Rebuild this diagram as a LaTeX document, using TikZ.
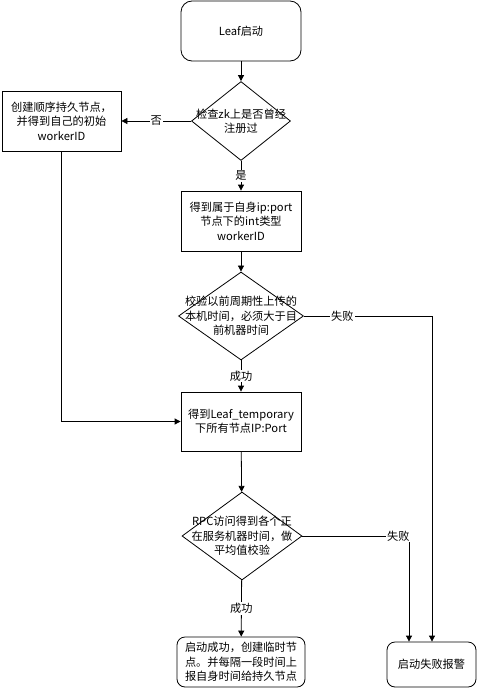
\documentclass[tikz,border=0pt]{standalone}
\usepackage{fontspec}
\setmainfont{Noto Sans CJK SC}
\usetikzlibrary{shapes.geometric,arrows.meta}

\begin{document}
\begin{tikzpicture}[x=1pt,y=-1pt,
    font=\fontsize{11.2}{14.5}\selectfont,
    line width=0.8pt,
    >={Triangle[length=6pt,width=6pt]},
    box/.style={draw,minimum width=120pt,minimum height=60pt,align=center,inner sep=2pt},
    rbox/.style={box,rounded corners=8pt},
    dia/.style={draw,diamond,inner sep=0pt},
    lbl/.style={fill=white,inner sep=1pt}]
\useasboundingbox (0,0) rectangle (478,688);
\node[rbox,rounded corners=11pt] (start) at (241,31) {Leaf启动};
\node[dia,minimum width=99pt,minimum height=79pt,
    label={[align=center]center:{检查zk上是否曾经\\注册过}}] (chk) at (241,121) {};
\node[box,minimum width=119pt] (newid) at (61.5,121) {创建顺序持久节点，\\并得到自己的初始\\workerID};
\node[box] (ownid) at (241,221) {得到属于自身ip:port\\节点下的int类型\\workerID};
\node[dia,minimum width=125pt,minimum height=88pt,
    label={[align=center]center:{校验以前周期性上传的\\本机时间，必须大于目\\前机器时间}}] (clk) at (241,316) {};
\node[box,minimum height=59pt] (tmp) at (241,421.5) {得到Leaf\_temporary\\下所有节点IP:Port};
\node[dia,minimum width=120pt,minimum height=88pt,
    label={[align=center]center:{RPC访问得到各个正\\在服务机器时间，做\\平均值校验}}] (rpc) at (242,536) {};
\node[rbox,minimum width=128pt,minimum height=50pt] (done) at (241,662) {启动成功，创建临时节\\点。并每隔一段时间上\\报自身时间给持久节点};
\node[rbox,minimum width=89pt,minimum height=45pt] (alarm) at (431.5,664.5) {启动失败报警};
\coordinate (f1) at (432,316);
\coordinate (f2) at (409,536);

\draw[->] (start) -- (chk);
\draw[->] (chk) -- node[lbl]{否} (newid);
\draw[->] (chk) -- node[lbl]{是} (ownid);
\draw[->] (ownid) -- (clk);
\draw[->] (clk) -- node[lbl]{成功} (tmp);
\draw[->] (newid) |- (tmp);
\draw[->] (tmp) -- (rpc);
\draw[->] (rpc) -- node[lbl]{成功} (done);
\draw[->] (clk.east) -- node[lbl,pos=0.3]{失败} (f1) -- (f1 |- alarm.north);
\draw[->] (rpc.east) -- node[lbl,pos=0.9]{失败} (f2) -- (f2 |- alarm.north);
\end{tikzpicture}
\end{document}
